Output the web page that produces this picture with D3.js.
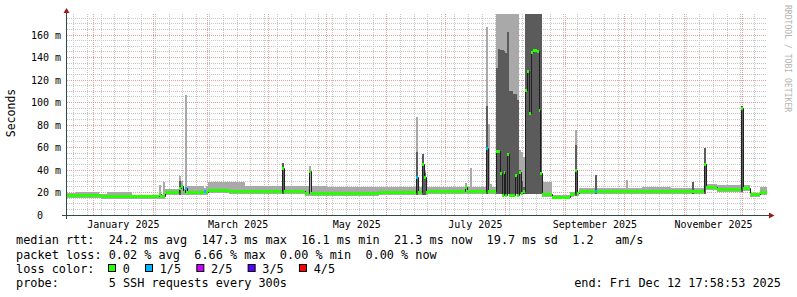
<!DOCTYPE html>
<html>
<head>
<meta charset="utf-8">
<title>smokeping year</title>
<script src="https://cdn.jsdelivr.net/npm/d3@7"></script>
<style>
body{margin:0;background:#fff;}
svg{display:block;font-family:"DejaVu Sans Mono",monospace;}
.pre{white-space:pre;}
</style>
</head>
<body>
<svg id="chart" width="797" height="297"></svg>
<script>
// median rtt in ms, as step changes: [from day, ms]
var medianSteps = [
  ["2024-12-18", 17.6], ["2025-01-05", 17.0], ["2025-01-21", 16.5],
  ["2025-02-07", 20.5], ["2025-03-01", 22.0], ["2025-03-12", 21.0],
  ["2025-04-20", 19.8], ["2025-05-20", 19.3], ["2025-05-28", 20.7],
  ["2025-06-22", 21.3], ["2025-08-20", 18.7], ["2025-08-25", 16.3],
  ["2025-09-03", 18.7], ["2025-09-05", 19.8], ["2025-09-08", 21.6],
  ["2025-11-12", 24.6], ["2025-11-18", 22.8], ["2025-12-01", 23.7],
  ["2025-12-05", 18.7], ["2025-12-10", 20.7]
];
// top of the smoke in ms, step changes
var smokeSteps = [
  ["2024-12-18", 19.5], ["2024-12-23", 20.2], ["2025-01-04", 19.0],
  ["2025-01-08", 20.2], ["2025-01-21", 17.5], ["2025-02-07", 23.5],
  ["2025-02-18", 26.0], ["2025-03-01", 29.0], ["2025-03-20", 25.5],
  ["2025-05-01", 25.0], ["2025-06-01", 24.5], ["2025-08-20", 29.0],
  ["2025-08-25", 17.5], ["2025-09-03", 20.5], ["2025-09-08", 23.7],
  ["2025-10-10", 25.0], ["2025-10-25", 23.7], ["2025-11-12", 28.0],
  ["2025-11-18", 26.7], ["2025-12-05", 19.5], ["2025-12-10", 25.0]
];
// days that stand out: [day, median ms, inner smoke top ms (0 = none), outer smoke top ms, lost pings]
var spikeDays = [
  ["2025-02-04", 19.0, 0, 27, 0],
  ["2025-02-06", 17.0, 0, 29, 0],
  ["2025-02-14", 24.0, 30, 35, 0],
  ["2025-02-15", 26.0, 0, 30, 0],
  ["2025-02-17", 23.7, 0, 107, 1],
  ["2025-02-27", 21.0, 0, 24, 1],
  ["2025-04-08", 42.0, 46, 46, 0],
  ["2025-04-22", 39.0, 0, 43.5, 0],
  ["2025-06-16", 34.0, 56, 87, 1],
  ["2025-06-19", 45.0, 54, 54, 0],
  ["2025-06-20", 34.0, 37, 40, 0],
  ["2025-07-11", 24.6, 0, 28.7, 0],
  ["2025-07-14", 21.3, 0, 41.5, 0],
  ["2025-07-22", 60.0, 97, 167, 1],
  ["2025-07-23", 21.3, 0, 81, 0],
  ["2025-07-24", 21.3, 0, 28, 0],
  ["2025-07-27", 57, 131, 180, 0],
  ["2025-07-28", 57, 148, 180, 0],
  ["2025-07-29", 37, 147, 180, 0],
  ["2025-07-30", 18, 147, 180, 0],
  ["2025-07-31", 38, 146, 180, 0],
  ["2025-08-01", 18, 144, 180, 0],
  ["2025-08-02", 54, 163, 180, 0],
  ["2025-08-03", 18, 110, 180, 0],
  ["2025-08-04", 18, 110, 180, 0],
  ["2025-08-05", 18, 108, 180, 0],
  ["2025-08-06", 36, 108, 180, 0],
  ["2025-08-07", 18, 102, 180, 0],
  ["2025-08-08", 38, 40, 58, 0],
  ["2025-08-09", 20, 30, 56, 0],
  ["2025-08-10", 21, 25, 52, 0],
  ["2025-08-11", 111, 180, 180, 0],
  ["2025-08-12", 128, 180, 180, 0],
  ["2025-08-13", 91, 180, 180, 0],
  ["2025-08-14", 145, 180, 180, 0],
  ["2025-08-15", 147, 180, 180, 0],
  ["2025-08-16", 147, 180, 180, 0],
  ["2025-08-17", 146, 180, 180, 0],
  ["2025-08-18", 93, 180, 180, 0],
  ["2025-08-19", 37, 180, 180, 0],
  ["2025-09-06", 40.0, 62, 76, 0],
  ["2025-09-16", 21.0, 36, 36, 1],
  ["2025-10-02", 21.6, 0, 31, 0],
  ["2025-11-05", 21.6, 29.6, 29.6, 0],
  ["2025-11-11", 45.0, 60, 60, 0],
  ["2025-11-30", 95.0, 97, 97, 0]
];
var yTicks = [0, 20, 40, 60, 80, 100, 120, 140, 160];
var lossLabels = ["0", "1/5", "2/5", "3/5", "4/5"];
var lossColors = ["#26ff00", "#00b8ff", "#cc00ff", "#5a00ff", "#ff0000"];
var rttStats = [["avg", "24.2"], ["max", "147.3"], ["min", "16.1"], ["now", "21.3"], ["sd", "19.7"]];
var amPerS = "1.2";
var lossStats = [["avg", "0.02"], ["max", "6.66"], ["min", "0.00"], ["now", "0.00"]];
var probeText = "5 SSH requests every 300s";
var endText = "end: Fri Dec 12 17:58:53 2025";

var svg = d3.select("#chart");
var parseDay = d3.utcParse("%Y-%m-%d");
var fmtDay = d3.utcFormat("%Y-%m-%d");

var x = d3.scaleUtc()
    .domain([new Date(Date.UTC(2024, 11, 18, 12)), new Date(Date.UTC(2025, 11, 13, 12))])
    .range([67, 767]);
var y = d3.scaleLinear().domain([0, 160]).range([215, 35]);
var plotTop = 14;
var yMax = y.invert(plotTop);

function px(t){ return Math.round(x(t)); }
function stepValue(steps, day){
    var v = steps[0][1];
    steps.forEach(function(s){ if (parseDay(s[0]) <= day) v = s[1]; });
    return v;
}

// one row per day
var spikeMap = new Map(spikeDays.map(function(s){ return [s[0], s]; }));
var days = d3.utcDay.range(d3.utcDay.floor(x.domain()[0]), x.domain()[1]);
var rows = days.map(function(d){
    var base = stepValue(medianSteps, d);
    var r = {t0: d, t1: d3.utcDay.offset(d, 1), lo: base - 2.5, med: base,
             dark: null, light: stepValue(smokeSteps, d), loss: 0};
    var s = spikeMap.get(fmtDay(d));
    if (s){
        r.med = s[1];
        r.dark = s[2] ? s[2] : null;
        r.light = s[3];
        r.loss = s[4];
    }
    return r;
});

// grid
var grid = svg.append("g");
d3.range(5, yMax, 5).filter(function(v){ return v % 20 != 0; }).forEach(function(v){
    var yy = Math.floor(y(v)) + 0.5;
    grid.append("line").attr("x1", 67).attr("x2", 767).attr("y1", yy).attr("y2", yy)
        .attr("stroke", "#c6c6c6").attr("stroke-dasharray", "1,1");
});
d3.utcSunday.range(x.domain()[0], x.domain()[1]).forEach(function(t){
    var xx = Math.floor(x(t)) + 0.5;
    grid.append("line").attr("x1", xx).attr("x2", xx).attr("y1", plotTop).attr("y2", 215)
        .attr("stroke", "#c6c6c6").attr("stroke-dasharray", "1,1");
});
yTicks.filter(function(v){ return v > 0; }).forEach(function(v){
    var yy = Math.floor(y(v)) + 0.5;
    grid.append("line").attr("x1", 67).attr("x2", 767).attr("y1", yy).attr("y2", yy)
        .attr("stroke", "#eb9c9c").attr("stroke-dasharray", "1,1");
});
d3.utcMonth.range(x.domain()[0], x.domain()[1]).forEach(function(t){
    var xx = Math.floor(x(t)) + 0.5;
    grid.append("line").attr("x1", xx).attr("x2", xx).attr("y1", plotTop).attr("y2", 215)
        .attr("stroke", "#eb9c9c").attr("stroke-dasharray", "1,1");
});

// data
svg.append("clipPath").attr("id", "plot").append("rect")
    .attr("x", 67).attr("y", plotTop).attr("width", 700).attr("height", 215 - plotTop);
var g = svg.append("g").attr("clip-path", "url(#plot)");

function pairs(key){
    var pts = [];
    rows.forEach(function(r){
        var v = r[key];
        if (v == null){ pts.push(null); return; }
        pts.push({x: px(r.t0), lo: r.lo, hi: v});
        pts.push({x: px(r.t1), lo: r.lo, hi: v});
    });
    return pts;
}
var smokeArea = d3.area()
    .defined(function(d){ return d; })
    .x(function(d){ return d.x; })
    .y0(function(d){ return y(d.lo); })
    .y1(function(d){ return y(Math.min(d.hi, yMax)); });

g.append("path").attr("d", smokeArea(pairs("light")))
    .attr("fill", "#a9a9a9").attr("shape-rendering", "crispEdges");
g.append("path").attr("d", smokeArea(pairs("dark")))
    .attr("fill", "#5b5b5b").attr("shape-rendering", "crispEdges");

function my(v){ return Math.round(y(v)) + 0.5; }
var last = rows[rows.length - 1];
var stepPts = rows.map(function(r){ return [px(r.t0) + 0.5, my(r.med)]; });
stepPts.push([px(last.t1) + 0.5, my(last.med)]);
g.append("path")
    .attr("d", d3.line().curve(d3.curveStepAfter)(stepPts))
    .attr("fill", "none").attr("stroke", "#202020").attr("stroke-width", 1);

lossColors.forEach(function(c, k){
    var pts = [];
    rows.forEach(function(r){
        if (r.loss !== k) return;
        pts.push([px(r.t0), my(r.med)], [px(r.t1), my(r.med)], null);
    });
    if (!pts.length) return;
    g.append("path")
        .attr("d", d3.line().defined(function(d){ return d; })(pts))
        .attr("fill", "none").attr("stroke", c).attr("stroke-width", 3);
});

// axes
svg.append("line").attr("x1", 66.5).attr("x2", 66.5).attr("y1", 219).attr("y2", 11)
    .attr("stroke", "#2c4d43");
svg.append("line").attr("x1", 62).attr("x2", 770).attr("y1", 215.5).attr("y2", 215.5)
    .attr("stroke", "#2c4d43");
svg.append("path").attr("d", "M63.5,13L69.5,13L66.5,8Z").attr("fill", "#9b1b1b");
svg.append("path").attr("d", "M769,212.5L769,218.5L774.5,215.5Z").attr("fill", "#9b1b1b");

svg.append("g").selectAll("text").data(yTicks).join("text")
    .attr("class", "pre")
    .attr("xml:space", "preserve")
    .attr("x", 61).attr("y", function(v){ return y(v); })
    .attr("dy", "0.36em")
    .attr("text-anchor", "end")
    .attr("font-size", "10px")
    .text(function(v){ return v === 0 ? "0   " : v + " m"; });

svg.append("g").selectAll("text")
    .data(d3.utcMonth.every(2).range(x.domain()[0], x.domain()[1]))
    .join("text")
    .attr("x", function(t){ return x(new Date((+t + +d3.utcMonth.offset(t, 1)) / 2)); })
    .attr("y", 228)
    .attr("text-anchor", "middle")
    .attr("font-size", "10px")
    .text(d3.utcFormat("%B %Y"));

svg.append("text")
    .attr("transform", "translate(15,113) rotate(-90)")
    .attr("text-anchor", "middle")
    .attr("font-size", "11.5px")
    .text("Seconds");

svg.append("text")
    .attr("transform", "translate(784.5,5) rotate(90)")
    .attr("font-size", "8.1px")
    .attr("fill", "#b4b4b4")
    .text("RRDTOOL / TOBI OETIKER");

// legend
var fs = 11.85, cw = fs * 0.602;
var rttLine = "median rtt:  " + rttStats.map(function(s){ return s[1] + " ms " + s[0]; }).join("  ")
    + "  " + amPerS + "   am/s";
var lossLine = "packet loss: " + lossStats.map(function(s){ return s[1] + " % " + s[0]; }).join("  ");
var legend = svg.append("g").attr("font-size", fs + "px").attr("fill", "#000");
[[rttLine, 244.2], [lossLine, 258.5], ["loss color:", 272.8], ["probe:       " + probeText, 287.1]]
    .forEach(function(l){
        legend.append("text").attr("class", "pre").attr("xml:space", "preserve")
            .attr("x", 16).attr("y", l[1]).text(l[0]);
    });
var bx = 108;
lossLabels.forEach(function(lab, k){
    legend.append("rect").attr("x", bx + 0.5).attr("y", 264.5).attr("width", 7).attr("height", 7)
        .attr("fill", lossColors[k]).attr("stroke", "#000");
    legend.append("text").attr("x", bx + 14.7).attr("y", 272.8).text(lab);
    bx = bx + 14.7 + lab.length * cw + 15.2;
});
legend.append("text").attr("x", 781).attr("y", 287.1).attr("text-anchor", "end").text(endText);
</script>
</body>
</html>
